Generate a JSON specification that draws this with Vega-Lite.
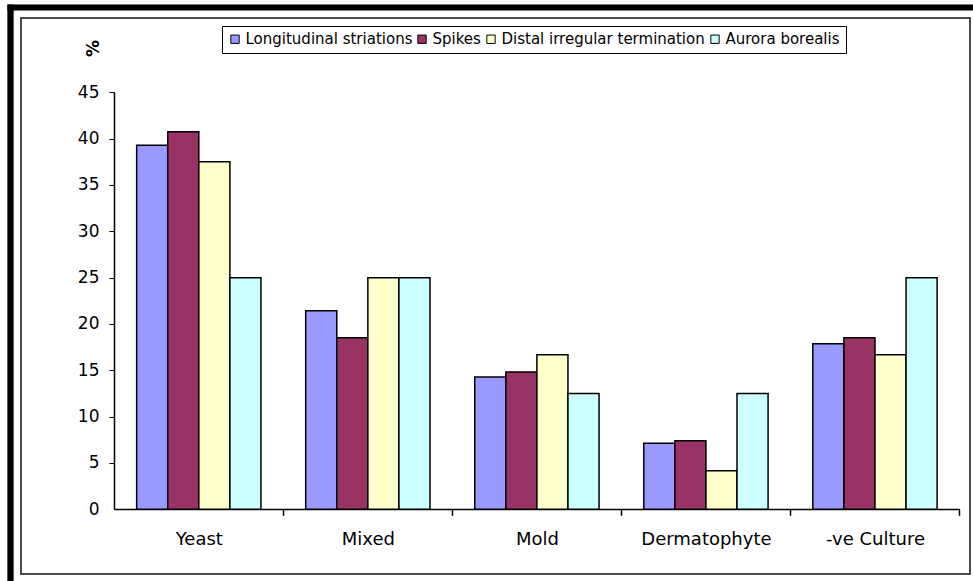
{
  "$schema": "https://vega.github.io/schema/vega-lite/v6.json",
  "width": 949,
  "height": 556,
  "autosize": {"type": "none"},
  "padding": {"left": 21, "top": 18, "right": 3, "bottom": 7},
  "background": "white",
  "config": {
    "font": "DejaVu Sans",
    "view": {"stroke": "#111111", "strokeWidth": 1.5, "fill": "white"}
  },
  "data": {
    "values": [
      {"culture": "Yeast", "feature": "Longitudinal striations", "pct": 39.29},
      {"culture": "Yeast", "feature": "Spikes", "pct": 40.74},
      {"culture": "Yeast", "feature": "Distal irregular termination", "pct": 37.5},
      {"culture": "Yeast", "feature": "Aurora borealis", "pct": 25},
      {"culture": "Mixed", "feature": "Longitudinal striations", "pct": 21.43},
      {"culture": "Mixed", "feature": "Spikes", "pct": 18.52},
      {"culture": "Mixed", "feature": "Distal irregular termination", "pct": 25},
      {"culture": "Mixed", "feature": "Aurora borealis", "pct": 25},
      {"culture": "Mold", "feature": "Longitudinal striations", "pct": 14.29},
      {"culture": "Mold", "feature": "Spikes", "pct": 14.81},
      {"culture": "Mold", "feature": "Distal irregular termination", "pct": 16.67},
      {"culture": "Mold", "feature": "Aurora borealis", "pct": 12.5},
      {"culture": "Dermatophyte", "feature": "Longitudinal striations", "pct": 7.14},
      {"culture": "Dermatophyte", "feature": "Spikes", "pct": 7.41},
      {"culture": "Dermatophyte", "feature": "Distal irregular termination", "pct": 4.17},
      {"culture": "Dermatophyte", "feature": "Aurora borealis", "pct": 12.5},
      {"culture": "-ve Culture", "feature": "Longitudinal striations", "pct": 17.86},
      {"culture": "-ve Culture", "feature": "Spikes", "pct": 18.52},
      {"culture": "-ve Culture", "feature": "Distal irregular termination", "pct": 16.67},
      {"culture": "-ve Culture", "feature": "Aurora borealis", "pct": 25}
    ]
  },
  "mark": {"type": "bar", "stroke": "black", "strokeWidth": 1.5},
  "encoding": {
    "x": {
      "field": "culture",
      "type": "nominal",
      "sort": ["Yeast", "Mixed", "Mold", "Dermatophyte", "-ve Culture"],
      "scale": {"range": [-14, 952], "paddingInner": 0, "paddingOuter": 0.3573, "align": 0.8882},
      "axis": {
        "title": null,
        "orient": "bottom",
        "offset": -64.7,
        "tickBand": "extent",
        "domain": false,
        "tickColor": "black",
        "tickWidth": 1.5,
        "tickSize": {"condition": {"test": "datum.extra", "value": -417}, "value": 6},
        "labelAngle": 0,
        "labelFont": "DejaVu Sans",
        "labelFontSize": 18,
        "labelColor": "black",
        "labelPadding": 15,
        "grid": false
      }
    },
    "xOffset": {
      "field": "feature",
      "type": "nominal",
      "sort": ["Longitudinal striations", "Spikes", "Distal irregular termination", "Aurora borealis"],
      "scale": {"paddingInner": 0, "paddingOuter": 0.72}
    },
    "y": {
      "field": "pct",
      "type": "quantitative",
      "scale": {"domain": [-7.737, 54.53], "range": [563, -14], "nice": false, "zero": false},
      "axis": {
        "title": "%",
        "titleX": 83,
        "titleY": 30,
        "titleAlign": "center",
        "titleBaseline": "middle",
        "titleFont": "DejaVu Sans",
        "titleFontWeight": "bold",
        "titleFontSize": 17,
        "titleColor": "black",
        "values": [0, 5, 10, 15, 20, 25, 30, 35, 40, 45, 54.21],
        "offset": 11,
        "domainColor": "black",
        "domainWidth": 6.3,
        "tickColor": "black",
        "tickWidth": {"condition": {"test": "datum.value === 0", "value": 1.5}, "value": 1.2},
        "tickSize": {"condition": {"test": "datum.value === 0", "value": -949.5}, "value": -104.3},
        "tickDash": {"condition": {"test": "datum.value === 0", "value": [0, 104.3, 845.2, 2000]}, "value": [0, 99, 5.3, 1000]},
        "tickOpacity": {"condition": {"test": "datum.value > 50", "value": 0}, "value": 1},
        "labelExpr": "datum.value > 50 ? '' : datum.label",
        "labelPadding": {"condition": {"test": "datum.value === 0", "value": 860.5}, "value": 15.3},
        "labelFont": "DejaVu Sans",
        "labelFontSize": 17,
        "labelColor": "black",
        "labelOverlap": false,
        "grid": true,
        "gridColor": "black",
        "gridWidth": 6,
        "gridOpacity": {"condition": {"test": "datum.value > 50", "value": 1}, "value": 0}
      }
    },
    "y2": {"datum": 0},
    "color": {
      "field": "feature",
      "type": "nominal",
      "scale": {
        "domain": ["Longitudinal striations", "Spikes", "Distal irregular termination", "Aurora borealis"],
        "range": ["#9999FF", "#993366", "#FFFFCC", "#CCFFFF"]
      },
      "legend": {
        "orient": "none",
        "legendX": 201,
        "legendY": 8,
        "direction": "horizontal",
        "title": null,
        "symbolType": "square",
        "symbolSize": 70,
        "symbolStrokeColor": "black",
        "symbolStrokeWidth": 1,
        "symbolOpacity": 1,
        "labelFont": "DejaVu Sans",
        "labelFontSize": 15,
        "labelLimit": 0,
        "labelColor": "black",
        "labelOffset": 3,
        "columnPadding": 2,
        "strokeColor": "black",
        "fillColor": "white",
        "padding": 5.5
      }
    }
  }
}
